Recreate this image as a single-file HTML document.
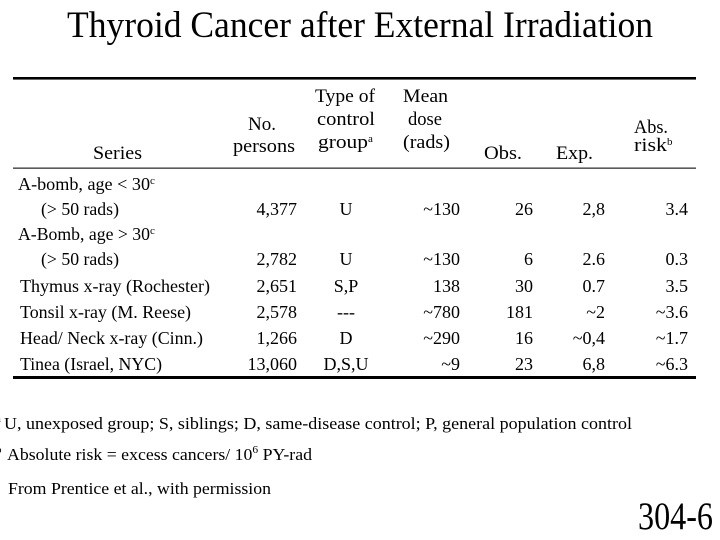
<!DOCTYPE html>
<html>
<head>
<meta charset="utf-8">
<style>
  html, body { margin: 0; padding: 0; background: #fff; }
  body { width: 720px; height: 540px; overflow: hidden; }
  svg { display: block; }
  text { font-family: "Liberation Serif", "Times New Roman", serif; fill: #000; }
</style>
</head>
<body>
<svg width="720" height="540" viewBox="0 0 720 540" xmlns="http://www.w3.org/2000/svg">
  <rect width="720" height="540" fill="#fff"/>

  <!-- Title -->
  <text x="67" y="37" font-size="37" textLength="586" lengthAdjust="spacingAndGlyphs">Thyroid Cancer after External Irradiation</text>

  <!-- Table rules -->
  <rect x="13" y="77" width="683" height="2.6" fill="#000"/>
  <rect x="13" y="167.5" width="683" height="1.3" fill="#333"/>
  <rect x="13" y="376" width="683" height="3" fill="#000"/>

  <!-- Header -->
  <g font-size="18.5">
    <text x="93" y="159" textLength="49" lengthAdjust="spacingAndGlyphs">Series</text>
    <text x="248" y="130" textLength="28" lengthAdjust="spacingAndGlyphs">No.</text>
    <text x="233" y="152" textLength="62" lengthAdjust="spacingAndGlyphs">persons</text>
    <text x="315" y="102" textLength="60" lengthAdjust="spacingAndGlyphs">Type of</text>
    <text x="317" y="125" textLength="58" lengthAdjust="spacingAndGlyphs">control</text>
    <text x="318" y="148" textLength="50" lengthAdjust="spacingAndGlyphs">group</text>
    <text x="368" y="142" font-size="11">a</text>
    <text x="403" y="102" textLength="45" lengthAdjust="spacingAndGlyphs">Mean</text>
    <text x="408" y="125" textLength="34" lengthAdjust="spacingAndGlyphs">dose</text>
    <text x="403" y="148" textLength="47" lengthAdjust="spacingAndGlyphs">(rads)</text>
    <text x="484" y="159" textLength="38" lengthAdjust="spacingAndGlyphs">Obs.</text>
    <text x="556" y="159" textLength="37" lengthAdjust="spacingAndGlyphs">Exp.</text>
    <text x="634" y="133" textLength="34" lengthAdjust="spacingAndGlyphs">Abs.</text>
    <text x="634" y="151" textLength="33" lengthAdjust="spacingAndGlyphs">risk</text>
    <text x="667" y="145" font-size="11">b</text>
  </g>

  <!-- Row labels -->
  <g font-size="18">
    <text x="18" y="190" textLength="132" lengthAdjust="spacingAndGlyphs">A-bomb, age &lt; 30</text>
    <text x="150" y="184" font-size="11">c</text>
    <text x="41" y="215" textLength="78" lengthAdjust="spacingAndGlyphs">(&gt; 50 rads)</text>
    <text x="18" y="240" textLength="132" lengthAdjust="spacingAndGlyphs">A-Bomb, age &gt; 30</text>
    <text x="150" y="234" font-size="11">c</text>
    <text x="41" y="265" textLength="78" lengthAdjust="spacingAndGlyphs">(&gt; 50 rads)</text>
    <text x="20" y="292" textLength="190" lengthAdjust="spacingAndGlyphs">Thymus x-ray (Rochester)</text>
    <text x="20" y="318" textLength="171" lengthAdjust="spacingAndGlyphs">Tonsil x-ray (M. Reese)</text>
    <text x="20" y="344" textLength="183" lengthAdjust="spacingAndGlyphs">Head/ Neck x-ray (Cinn.)</text>
    <text x="20" y="370" textLength="142" lengthAdjust="spacingAndGlyphs">Tinea (Israel, NYC)</text>
  </g>

  <!-- No. persons -->
  <g font-size="18" text-anchor="end">
    <text x="297" y="215">4,377</text>
    <text x="297" y="265">2,782</text>
    <text x="297" y="292">2,651</text>
    <text x="297" y="318">2,578</text>
    <text x="297" y="344">1,266</text>
    <text x="297" y="370">13,060</text>
  </g>

  <!-- Type of control -->
  <g font-size="18" text-anchor="middle">
    <text x="346" y="215">U</text>
    <text x="346" y="265">U</text>
    <text x="346" y="292">S,P</text>
    <text x="346" y="318">---</text>
    <text x="346" y="344">D</text>
    <text x="346" y="370">D,S,U</text>
  </g>

  <!-- Mean dose -->
  <g font-size="18" text-anchor="end">
    <text x="460" y="215">~130</text>
    <text x="460" y="265">~130</text>
    <text x="460" y="292">138</text>
    <text x="460" y="318">~780</text>
    <text x="460" y="344">~290</text>
    <text x="460" y="370">~9</text>
  </g>

  <!-- Obs -->
  <g font-size="18" text-anchor="end">
    <text x="533" y="215">26</text>
    <text x="533" y="265">6</text>
    <text x="533" y="292">30</text>
    <text x="533" y="318">181</text>
    <text x="533" y="344">16</text>
    <text x="533" y="370">23</text>
  </g>

  <!-- Exp -->
  <g font-size="18" text-anchor="end">
    <text x="605" y="215">2,8</text>
    <text x="605" y="265">2.6</text>
    <text x="605" y="292">0.7</text>
    <text x="605" y="318">~2</text>
    <text x="605" y="344">~0,4</text>
    <text x="605" y="370">6,8</text>
  </g>

  <!-- Abs risk -->
  <g font-size="18" text-anchor="end">
    <text x="688" y="215">3.4</text>
    <text x="688" y="265">0.3</text>
    <text x="688" y="292">3.5</text>
    <text x="688" y="318">~3.6</text>
    <text x="688" y="344">~1.7</text>
    <text x="688" y="370">~6.3</text>
  </g>

  <!-- Footnotes -->
  <g font-size="17">
    <text x="-4" y="422" font-size="11">a</text>
    <text x="4" y="429" textLength="628" lengthAdjust="spacingAndGlyphs">U, unexposed group; S, siblings; D, same-disease control; P, general population control</text>
    <text x="-4" y="453" font-size="11">b</text>
    <text x="7" y="460" textLength="305" lengthAdjust="spacingAndGlyphs">Absolute risk = excess cancers/ 10<tspan font-size="11" dy="-7">6</tspan><tspan dy="7"> PY-rad</tspan></text>
    <text x="8" y="494" textLength="263" lengthAdjust="spacingAndGlyphs">From Prentice et al., with permission</text>
  </g>

  <!-- Slide number -->
  <text x="638" y="529" font-size="39" textLength="75" lengthAdjust="spacingAndGlyphs">304-6</text>
</svg>
</body>
</html>
